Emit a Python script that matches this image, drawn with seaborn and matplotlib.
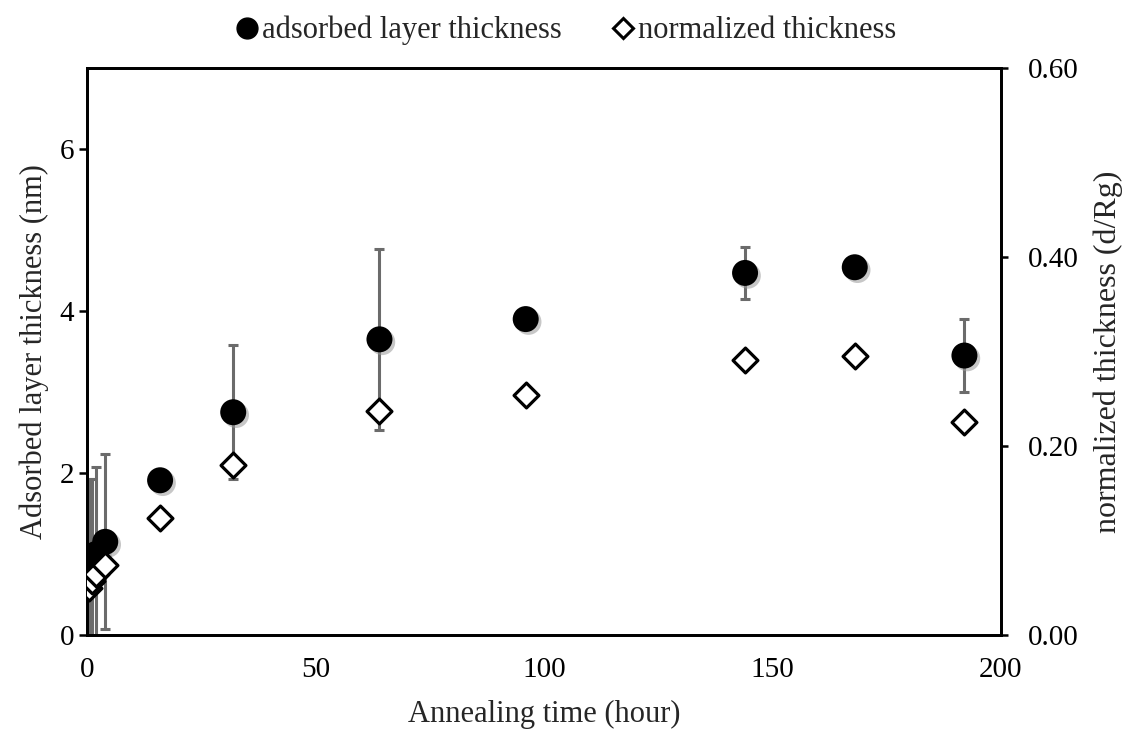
import numpy as np
import pandas as pd
import matplotlib
matplotlib.use("Agg")
import matplotlib.pyplot as plt
import matplotlib.patheffects as pe
from matplotlib.lines import Line2D
import seaborn as sns

# ---- data ----
time_h = [0.5, 1, 2, 4, 16, 32, 64, 96, 144, 168, 192]
thickness_nm = [0.80, 0.92, 1.00, 1.15, 1.91, 2.75, 3.65, 3.90, 4.47, 4.54, 3.45]
thickness_err = [1.13, 1.01, 1.07, 1.08, np.nan, 0.83, 1.12, np.nan, 0.32, np.nan, 0.45]
normalized = [0.050, 0.057, 0.064, 0.074, 0.124, 0.180, 0.237, 0.254, 0.291, 0.295, 0.225]
x_ticks = [0, 50, 100, 150, 200]
y_ticks = [0, 2, 4, 6]
y2_ticks = [0.0, 0.2, 0.4, 0.6]
y2_labels = ["0.00", "0.20", "0.40", "0.60"]

df = pd.DataFrame({"time": time_h, "thick": thickness_nm, "err": thickness_err, "norm": normalized})

sns.set_theme(style="white")
plt.rcParams['font.family'] = ['Liberation Serif', 'DejaVu Serif']

fig = plt.figure(figsize=(11.28, 7.29), dpi=100)
ax = fig.add_axes([0.0771, 0.129, 0.8103, 0.7777])

# error bars
ax.errorbar(df["time"], df["thick"], yerr=df["err"], fmt="none", ecolor="#6b6b6b",
            elinewidth=2.2, capsize=3.5, capthick=2.2, zorder=1)

sns.scatterplot(data=df, x="time", y="thick", ax=ax, marker="o", s=350, color="black",
                edgecolor="black", linewidth=0, zorder=3, legend=False)
for coll in ax.collections:
    if coll.get_offsets().shape[0] == len(df) and coll.get_sizes()[0] == 350:
        coll.set_path_effects([pe.SimplePatchShadow(offset=(2, -2), shadow_rgbFace="#999999", alpha=0.55), pe.Normal()])

ax.set_xlim(0, 200)
ax.set_ylim(0, 7)
ax.set_xticks(x_ticks)
ax.set_yticks(y_ticks)
ax.set_xlabel("Annealing time (hour)", fontsize=22, labelpad=12)
ax.set_ylabel("Adsorbed layer thickness (nm)", fontsize=22, labelpad=8)
ax.tick_params(axis="both", labelsize=21, direction="out", length=6, width=1.8, colors="black", pad=3)
ax.tick_params(axis="x", pad=10)
for sp in ax.spines.values():
    sp.set_linewidth(2)
    sp.set_color("black")

ax2 = ax.twinx()
sns.scatterplot(data=df, x="time", y="norm", ax=ax2, marker="D", s=160, color="white",
                edgecolor="black", linewidth=2.3, zorder=4, legend=False)
ax2.set_ylim(0, 0.6)
ax2.set_yticks(y2_ticks)
ax2.set_yticklabels(y2_labels)
ax2.set_ylabel("normalized thickness (d/Rg)", fontsize=23, labelpad=11)
ax2.tick_params(axis="y", labelsize=21, direction="out", length=5, width=1.8, colors="black", pad=14)
for sp in ax2.spines.values():
    sp.set_linewidth(2)
    sp.set_color("black")
ax.set_xlim(0, 200)

handles = [
    Line2D([], [], marker="o", linestyle="none", markersize=15, markerfacecolor="black", markeredgecolor="black"),
    Line2D([], [], marker="D", linestyle="none", markersize=10, markerfacecolor="white", markeredgecolor="black", markeredgewidth=2.2),
]
fig.legend(handles, ["adsorbed layer thickness", "normalized thickness"], loc="center",
           bbox_to_anchor=(0.500, 0.958), ncol=2, frameon=False, fontsize=22,
           handletextpad=0.0, columnspacing=1.5, handlelength=1.0)

fig.savefig("out.png", dpi=100, facecolor="white")
